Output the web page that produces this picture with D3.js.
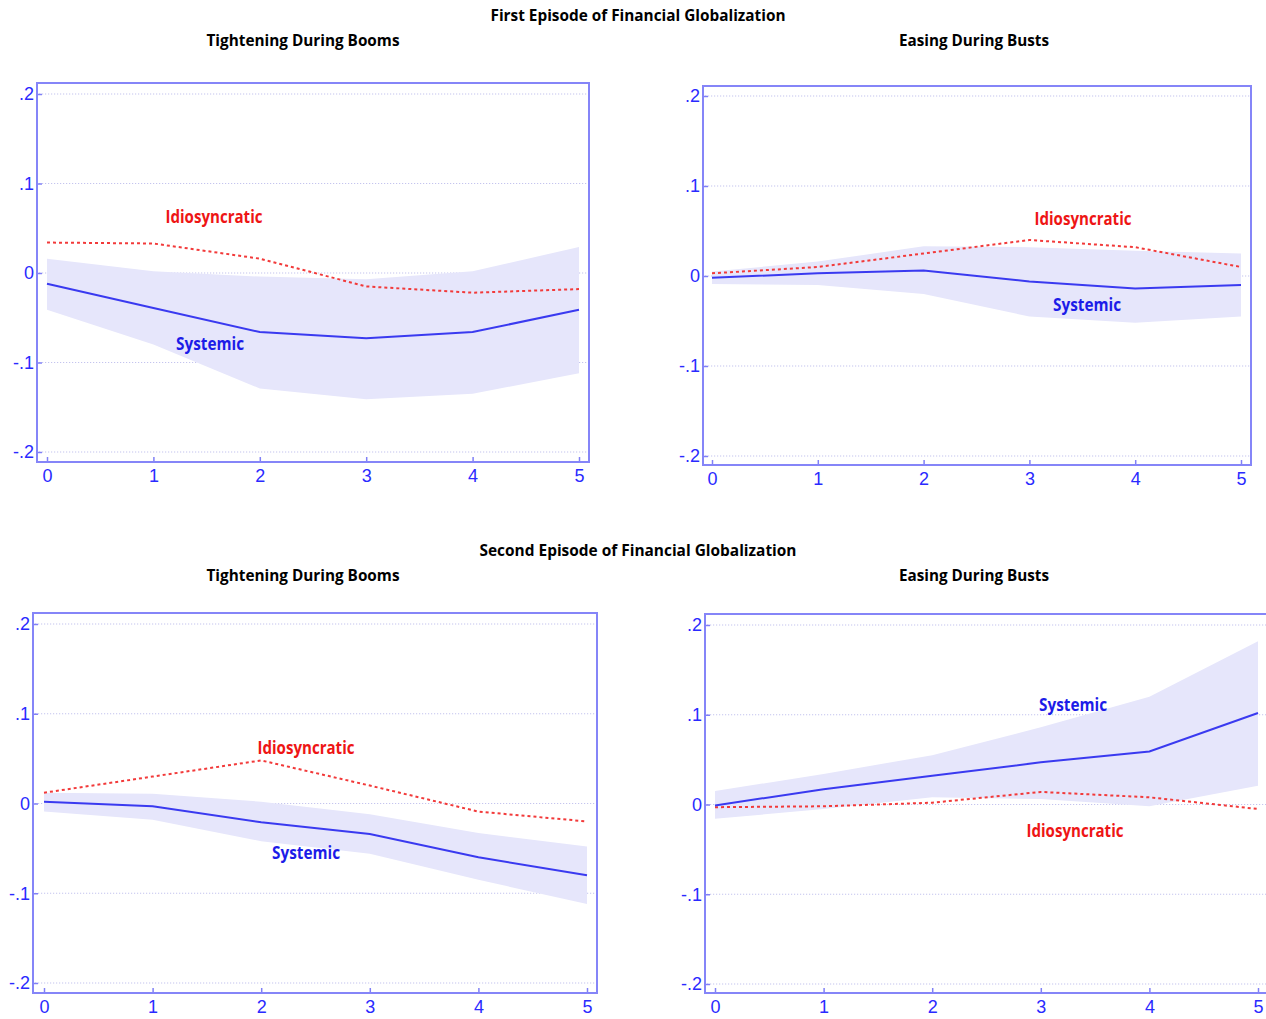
<!DOCTYPE html>
<html lang="en">
<head>
<meta charset="UTF-8">
<title>Financial Globalization Responses</title>
<script src="https://d3js.org/d3.v7.min.js"></script>
<style>
    body { margin: 0; background: #fff; }
    .title { font-family: "Open Sans", sans-serif; font-weight: bold; font-size: 16px; fill: #000; text-anchor: middle; }
    .tick text { font-family: "Liberation Sans", Arial, sans-serif; font-size: 18px; fill: #2a2aff; }
    .series-label { font-family: "Open Sans", sans-serif; font-weight: bold; font-size: 17px; text-anchor: middle; }
</style>
</head>
<body>
<div id="chart"></div>
<script>
// horizons on the x axis
const horizons = [0, 1, 2, 3, 4, 5];
const yTicks = [0.2, 0.1, 0, -0.1, -0.2];
const yTickLabels = [".2", ".1", "0", "-.1", "-.2"];

// First episode, tightening during booms
const p1Systemic = [-0.012, -0.039, -0.066, -0.073, -0.066, -0.041];
const p1Upper    = [0.016, 0.002, -0.004, -0.007, 0.002, 0.029];
const p1Lower    = [-0.041, -0.080, -0.129, -0.141, -0.135, -0.112];
const p1Idio     = [0.034, 0.033, 0.016, -0.015, -0.022, -0.018];

// First episode, easing during busts
const p2Systemic = [-0.002, 0.003, 0.006, -0.006, -0.014, -0.010];
const p2Upper    = [0.005, 0.016, 0.033, 0.032, 0.028, 0.025];
const p2Lower    = [-0.009, -0.010, -0.020, -0.045, -0.052, -0.045];
const p2Idio     = [0.003, 0.010, 0.025, 0.040, 0.032, 0.010];

// Second episode, tightening during booms
const p3Systemic = [0.002, -0.003, -0.021, -0.034, -0.060, -0.080];
const p3Upper    = [0.012, 0.011, 0.002, -0.012, -0.033, -0.048];
const p3Lower    = [-0.009, -0.018, -0.042, -0.056, -0.085, -0.112];
const p3Idio     = [0.012, 0.030, 0.048, 0.020, -0.009, -0.020];

// Second episode, easing during busts
const p4Systemic = [-0.001, 0.017, 0.032, 0.047, 0.059, 0.102];
const p4Upper    = [0.015, 0.034, 0.055, 0.086, 0.120, 0.182];
const p4Lower    = [-0.016, -0.005, 0.008, 0.006, -0.002, 0.021];
const p4Idio     = [-0.003, -0.002, 0.002, 0.014, 0.008, -0.005];

const systemicLabel = "Systemic";
const idioLabel = "Idiosyncratic";

const W = 1266, H = 1019;
const svg = d3.select("#chart").append("svg")
    .attr("width", W).attr("height", H);

// headings: text, x, baseline, width
const headings = [
    ["First Episode of Financial Globalization", 638, 21, 295],
    ["Tightening During Booms", 303, 46, 193],
    ["Easing During Busts", 974, 46, 150],
    ["Second Episode of Financial Globalization", 638, 556, 317],
    ["Tightening During Booms", 303, 581, 193],
    ["Easing During Busts", 974, 581, 150]
];
headings.forEach(h => {
    svg.append("text").attr("class", "title")
        .attr("x", h[1]).attr("y", h[2])
        .attr("textLength", h[3]).attr("lengthAdjust", "spacingAndGlyphs")
        .text(h[0]);
});

// panel layout: frame box, tick pixel range, label positions
const panels = [
    { frame: [37, 83, 589, 462], xr: [47, 579], yr: [94, 452],
      sys: p1Systemic, up: p1Upper, lo: p1Lower, idio: p1Idio,
      sysPos: [210, 350], idioPos: [214, 223] },
    { frame: [703, 86, 1251, 465], xr: [712, 1241], yr: [96, 456],
      sys: p2Systemic, up: p2Upper, lo: p2Lower, idio: p2Idio,
      sysPos: [1087, 311], idioPos: [1083, 225] },
    { frame: [33, 613, 597, 993], xr: [44, 587], yr: [624, 983],
      sys: p3Systemic, up: p3Upper, lo: p3Lower, idio: p3Idio,
      sysPos: [306, 859], idioPos: [306, 754] },
    { frame: [705, 614, 1268, 993], xr: [715, 1258], yr: [625, 984],
      sys: p4Systemic, up: p4Upper, lo: p4Lower, idio: p4Idio,
      sysPos: [1073, 711], idioPos: [1075, 837] }
];

panels.forEach(p => {
    const [fl, ft, fr, fb] = p.frame;
    const x = d3.scaleLinear().domain([0, 5]).range(p.xr);
    const y = d3.scaleLinear().domain([0.2, -0.2]).range(p.yr);
    const g = svg.append("g");

    // dotted grid
    g.selectAll(".grid").data(yTicks).enter().append("line")
        .attr("x1", fl + 2).attr("x2", fr - 1)
        .attr("y1", d => y(d)).attr("y2", d => y(d))
        .attr("stroke", "#c4c4ee").attr("stroke-width", 1.2)
        .attr("stroke-dasharray", "1.2,1.8");

    // confidence band
    const area = d3.area()
        .x((d, i) => x(horizons[i]))
        .y0((d, i) => y(p.lo[i]))
        .y1((d, i) => y(p.up[i]));
    g.append("path").datum(horizons)
        .attr("d", area)
        .attr("fill", "#e6e6fb");

    const line = vals => d3.line().x((d, i) => x(horizons[i])).y((d, i) => y(vals[i]))(horizons);

    g.append("path").attr("d", line(p.idio))
        .attr("fill", "none").attr("stroke", "#f23a3a")
        .attr("stroke-width", 2).attr("stroke-dasharray", "3,3");

    g.append("path").attr("d", line(p.sys))
        .attr("fill", "none").attr("stroke", "#3a3af0")
        .attr("stroke-width", 2);

    // axes
    const xAxis = g.append("g")
        .attr("transform", `translate(0,${fb})`)
        .call(d3.axisBottom(x).tickValues(horizons).tickSizeInner(-5).tickSizeOuter(0).tickPadding(7).tickFormat(d3.format("d")));
    const yAxis = g.append("g")
        .attr("transform", `translate(${fl},0)`)
        .call(d3.axisLeft(y).tickValues(yTicks).tickSizeInner(-5).tickSizeOuter(0).tickPadding(3)
            .tickFormat((d, i) => yTickLabels[i]));
    [xAxis, yAxis].forEach(a => {
        a.select(".domain").remove();
        a.selectAll(".tick line").attr("stroke", "#8080f6").attr("stroke-width", 1.5);
    });

    // frame
    g.append("rect")
        .attr("x", fl).attr("y", ft)
        .attr("width", fr - fl).attr("height", fb - ft)
        .attr("fill", "none").attr("stroke", "#8585f8").attr("stroke-width", 2);

    g.append("text").attr("class", "series-label")
        .attr("x", p.sysPos[0]).attr("y", p.sysPos[1])
        .attr("textLength", 68).attr("lengthAdjust", "spacingAndGlyphs")
        .attr("fill", "#1c1ce8").text(systemicLabel);
    g.append("text").attr("class", "series-label")
        .attr("x", p.idioPos[0]).attr("y", p.idioPos[1])
        .attr("textLength", 97).attr("lengthAdjust", "spacingAndGlyphs")
        .attr("fill", "#ee1515").text(idioLabel);
});
</script>
</body>
</html>
